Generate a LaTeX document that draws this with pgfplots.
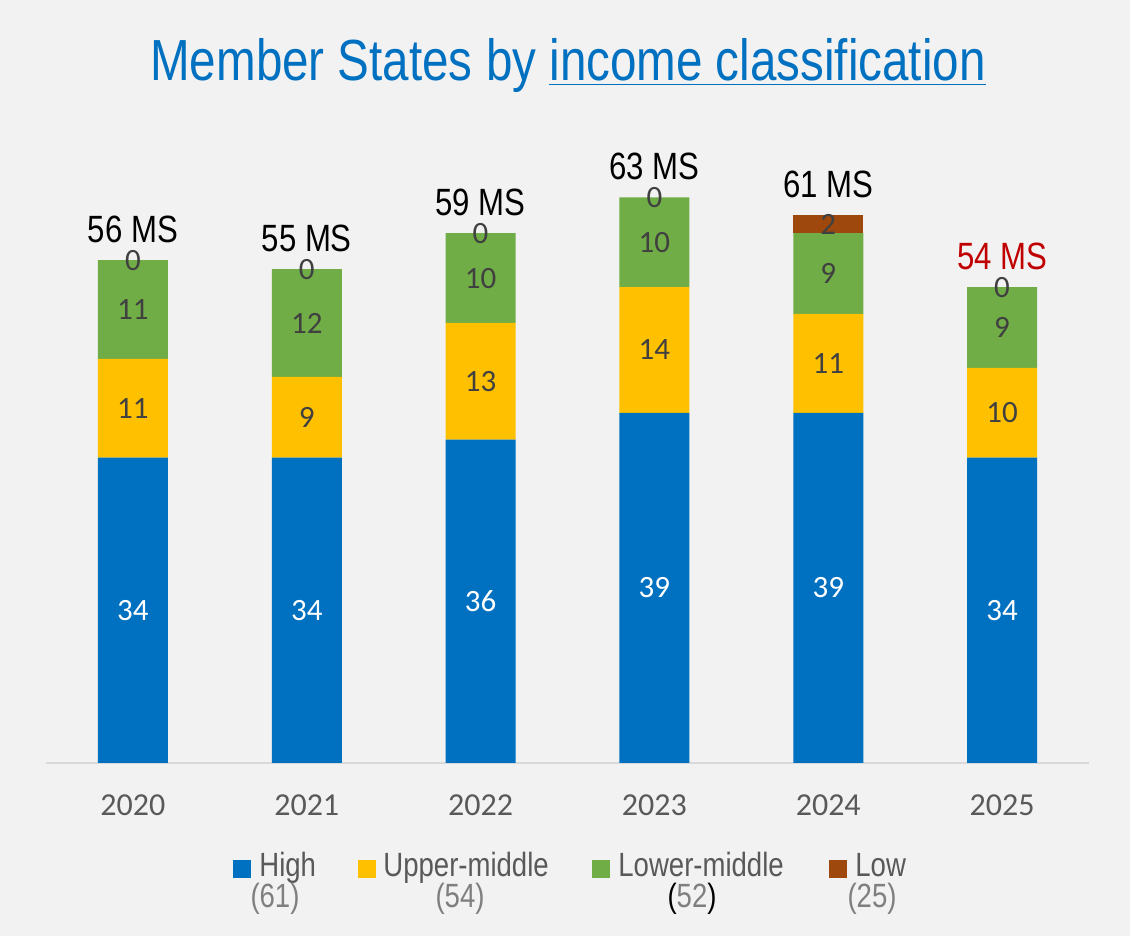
\documentclass[border=0pt]{standalone}
\usepackage{fontspec}
\setmainfont[FakeStretch=0.82]{Liberation Sans}
\newfontfamily\carlito{Carlito}
\usepackage{pgfplots}
\pgfplotsset{compat=1.18}
\usepackage{pgfplotstable}

\definecolor{bg}{HTML}{F2F2F2}
\definecolor{cHigh}{HTML}{0070C0}
\definecolor{cUpper}{HTML}{FFC000}
\definecolor{cLower}{HTML}{70AD47}
\definecolor{cLow}{HTML}{9E480E}
\definecolor{tick}{HTML}{595959}
\definecolor{count}{HTML}{7F7F7F}
\definecolor{lbl}{HTML}{404040}
\definecolor{msred}{HTML}{C00000}
\definecolor{baseline}{HTML}{D9D9D9}

% year index, segments and the total label
\pgfplotstableread{
x high upper lower low tot
0 34 11 11 0 {56 MS}
1 34 9 12 0 {55 MS}
2 36 13 10 0 {59 MS}
3 39 14 10 0 {63 MS}
4 39 11 9 2 {61 MS}
5 34 10 9 0 {\textcolor{msred}{54 MS}}
}\msdata

\pgfplotsset{
  frame/.style={
    at={(23pt,86.5pt)}, anchor=south west,
    scale only axis, width=521.5pt, height=336.75pt,
    xmin=-0.5, xmax=5.5, ymin=0, ymax=75, clip=false,
  },
  seglab/.style={
    only marks, mark=none, nodes near coords, point meta=explicit,
    every node near coord/.style={anchor=center, inner sep=0pt,
      font=\carlito\fontsize{15.5}{16}\selectfont, text=#1},
  },
}

\begin{document}
\begin{tikzpicture}
\fill[bg] (0pt,0pt) rectangle (565pt,468pt);
\useasboundingbox (0pt,0pt) rectangle (565pt,468pt);

\node[anchor=base, text=cHigh, font=\fontsize{29}{32}\selectfont]
  at (284pt,427.5pt) {Member States by \underline{income classification}};

% the stacked bars
\begin{axis}[
  frame,
  ybar stacked, bar width=35pt,
  axis x line*=bottom, axis y line=none,
  x axis line style={draw=baseline, line width=0.75pt, -},
  xtick={0,...,5}, xticklabels={2020,2021,2022,2023,2024,2025},
  major tick length=0pt,
  xticklabel style={anchor=base, yshift=-26.5pt, text=tick,
    font=\carlito\fontsize{16}{18}\selectfont},
]
\addplot[fill=cHigh, draw=none]  table[x=x, y=high]  {\msdata};
\addplot[fill=cUpper, draw=none] table[x=x, y=upper] {\msdata};
\addplot[fill=cLower, draw=none] table[x=x, y=lower] {\msdata};
\addplot[fill=cLow, draw=none]   table[x=x, y=low]   {\msdata};
\end{axis}

% the labels, in the middle of each segment and above each bar
\begin{axis}[frame, hide axis, /pgf/number format/assume math mode=true]
\addplot[seglab=white] table[x=x, y expr=\thisrow{high}/2, meta=high] {\msdata};
\addplot[seglab=lbl] table[x=x, y expr=\thisrow{high}+\thisrow{upper}/2, meta=upper] {\msdata};
\addplot[seglab=lbl] table[x=x, y expr=\thisrow{high}+\thisrow{upper}+\thisrow{lower}/2, meta=lower] {\msdata};
\addplot[seglab=lbl] table[x=x, y expr=\thisrow{high}+\thisrow{upper}+\thisrow{lower}+\thisrow{low}/2, meta=low] {\msdata};
\addplot[only marks, mark=none, nodes near coords, point meta=explicit symbolic,
  every node near coord/.style={anchor=base, inner sep=0pt, yshift=9pt,
    font=\fontsize{19}{21}\selectfont, text=black}]
  table[x=x, y expr=\thisrow{high}+\thisrow{upper}+\thisrow{lower}+\thisrow{low}, meta=tot] {\msdata};
\end{axis}

% legend
\fill[cHigh]  (116.5pt,29pt) rectangle (125.5pt,38pt);
\fill[cUpper] (179pt,29pt) rectangle (188pt,38pt);
\fill[cLower] (296pt,29pt) rectangle (305pt,38pt);
\fill[cLow]   (414.5pt,29pt) rectangle (423.5pt,38pt);
\begin{scope}[every node/.style={inner sep=0pt, font=\fontsize{16.8}{18}\selectfont}]
\node[anchor=base west, text=tick] at (129.5pt,29.5pt) {High};
\node[anchor=base west, text=tick] at (191.5pt,29.5pt) {Upper-middle};
\node[anchor=base west, text=tick] at (309pt,29.5pt) {Lower-middle};
\node[anchor=base west, text=tick] at (427.5pt,29.5pt) {Low};
\node[anchor=base, text=count] at (137.5pt,14pt) {(61)};
\node[anchor=base, text=count] at (230pt,14pt) {(54)};
\node[anchor=base, text=count] at (346pt,14pt) {\textcolor{black}{(}52\textcolor{black}{)}};
\node[anchor=base, text=count] at (436pt,14pt) {(25)};
\end{scope}
\end{tikzpicture}
\end{document}
